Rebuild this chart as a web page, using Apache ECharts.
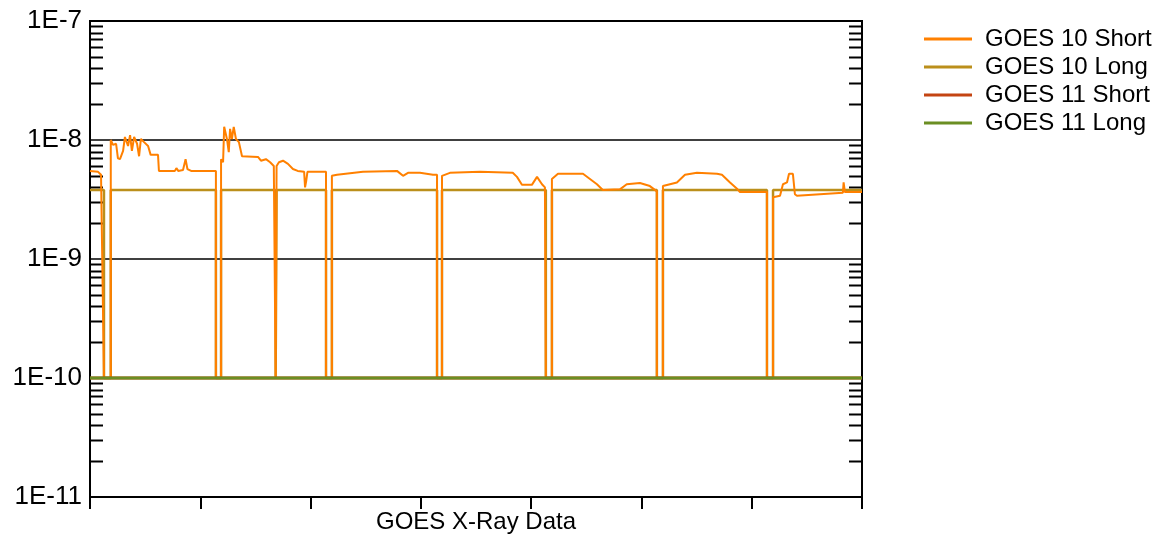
<!DOCTYPE html>
<html>
<head>
<meta charset="utf-8">
<script src="https://cdn.jsdelivr.net/npm/echarts@6/dist/echarts.min.js"></script>
<style>
html,body{margin:0;padding:0;background:#fff;}
#chart{width:1162px;height:536px;}
</style>
</head>
<body>
<div id="chart"></div>
<script>
// x in minutes across the window, y = X-ray flux (W/m^2)
const seriesNames = ['GOES 10 Short', 'GOES 10 Long', 'GOES 11 Short', 'GOES 11 Long'];
const seriesColors = ['#ff8000', '#bb8f1b', '#c44412', '#6b8e23'];
const xTicks = [0, 60, 120, 180, 240, 300, 360, 420];
const yDecades = [1e-11, 1e-10, 1e-9, 1e-8, 1e-7];
const minorMultipliers = [2, 3, 4, 5, 6, 7, 8, 9];

const goes10Short = [
  [0,5.5e-9],[4.4,5.4e-9],[6,5.1e-9],[7,5.0e-9],[7.6,1e-10],[11.3,1e-10],[11.3,1.0e-8],
  [12.5,9.1e-9],[14.2,9.3e-9],[15.2,7.0e-9],[16.3,6.9e-9],[18,8.1e-9],[19,1.06e-8],[20.7,8.9e-9],
  [21.8,1.1e-8],[22.8,8.1e-9],[24,1.06e-8],[25.6,9.3e-9],[26.7,7.3e-9],[27.7,1.02e-8],
  [29.4,9.6e-9],[31.6,8.9e-9],[33,7.5e-9],[37,7.5e-9],[37.5,5.5e-9],[46.2,5.5e-9],
  [47,5.8e-9],[48,5.5e-9],[50.6,5.6e-9],[52,6.9e-9],[53,5.7e-9],[55,5.5e-9],[68.5,5.5e-9],
  [68.5,1e-10],[71.3,1e-10],[71.3,6.9e-9],[72.4,6.5e-9],[73,1.29e-8],[74.5,1.02e-8],
  [75.5,7.9e-9],[76.2,1.24e-8],[77.2,1.02e-8],[78.2,1.29e-8],[79.4,1.02e-8],[81,9.6e-9],
  [82.7,7.3e-9],[91.4,7.2e-9],[93,6.7e-9],[95.7,6.9e-9],[98,6.5e-9],[100,6.05e-9],
  [101,6.05e-9],[101,1e-10],[101.5,1e-10],[101.5,6.05e-9],[102.8,6.5e-9],[105,6.7e-9],
  [107.7,6.3e-9],[110.4,5.7e-9],[113,5.5e-9],[116.5,5.4e-9],[117,4.0e-9],[117.6,4.5e-9],
  [118.3,5.4e-9],[128.4,5.4e-9],[128.4,1e-10],[131.6,1e-10],[131.6,5.0e-9],[134.4,5.1e-9],
  [148.5,5.4e-9],[167,5.5e-9],[170.3,5.0e-9],[173,5.3e-9],[179.5,5.3e-9],[186.6,5.1e-9],
  [188.8,5.1e-9],[188.8,1e-10],[191.5,1e-10],[191.5,5.0e-9],[195.8,5.3e-9],[212.2,5.4e-9],
  [230,5.3e-9],[232.3,4.9e-9],[235,4.2e-9],[240.4,4.2e-9],[243.2,4.9e-9],[245.9,4.25e-9],
  [247.5,4.0e-9],[248,4.0e-9],[248,1e-10],[251.3,1e-10],[251.3,4.7e-9],[254.6,5.2e-9],
  [268.2,5.2e-9],[272,4.7e-9],[275.8,4.25e-9],[279,3.8e-9],[288.3,3.85e-9],[292,4.25e-9],
  [299.2,4.35e-9],[304.6,4.1e-9],[308.4,3.7e-9],[308.4,1e-10],[311.7,1e-10],[311.7,4.1e-9],
  [319.3,4.4e-9],[323.7,5.1e-9],[330.2,5.3e-9],[341.1,5.2e-9],[343.8,5.1e-9],[348.2,4.4e-9],
  [352,3.9e-9],[353.6,3.65e-9],[368.3,3.65e-9],[368.3,1e-10],[371.6,1e-10],[371.6,3.3e-9],
  [375.4,3.4e-9],[377,4.25e-9],[379.2,4.4e-9],[380.3,5.2e-9],[382.4,5.2e-9],[383.5,3.5e-9],
  [384.6,3.4e-9],[409.6,3.6e-9],[410,4.4e-9],[410.7,3.65e-9],[420,3.65e-9]
];

const goes10Long = [
  [0,3.8e-9],[7.6,3.8e-9],[7.6,1e-10],[11.3,1e-10],[11.3,3.8e-9],
  [68.5,3.8e-9],[68.5,1e-10],[71.3,1e-10],[71.3,3.8e-9],
  [101,3.8e-9],[101,1e-10],[101.5,1e-10],[101.5,3.8e-9],
  [128.4,3.8e-9],[128.4,1e-10],[131.6,1e-10],[131.6,3.8e-9],
  [188.8,3.8e-9],[188.8,1e-10],[191.5,1e-10],[191.5,3.8e-9],
  [248,3.8e-9],[248,1e-10],[251.3,1e-10],[251.3,3.8e-9],
  [308.4,3.8e-9],[308.4,1e-10],[311.7,1e-10],[311.7,3.8e-9],
  [368.3,3.8e-9],[368.3,1e-10],[371.6,1e-10],[371.6,3.8e-9],
  [420,3.8e-9]
];

const goes11Short = [[0,1e-10],[420,1e-10]];
const goes11Long = [[0,1e-10],[420,1e-10]];

const minorTickValues = [];
yDecades.slice(0, -1).forEach(d => minorMultipliers.forEach(m => minorTickValues.push([0, m * d])));

const FONT = 'Liberation Sans, Arial, sans-serif';
const chart = echarts.init(document.getElementById('chart'), null, {renderer: 'canvas'});

function lineSeries(name, data, color, width, z) {
  return {
    name, type: 'line', data, showSymbol: false, symbol: 'none',
    lineStyle: {color, width}, itemStyle: {color}, z, silent: true, animation: false
  };
}

chart.setOption({
  animation: false,
  grid: {left: 90, top: 21, width: 772, height: 476, containLabel: false, outerBoundsMode: 'none',
    show: true, borderColor: '#000', borderWidth: 2, backgroundColor: '#fff'},
  legend: {
    orient: 'vertical', left: 919, top: 22, itemWidth: 48, itemHeight: 3, itemGap: 4, icon: 'rect',
    data: seriesNames,
    textStyle: {fontFamily: FONT, fontSize: 24, color: '#000', lineHeight: 24, padding: [0, 0, 0, 8]},
    selectedMode: false
  },
  xAxis: {
    type: 'value', min: xTicks[0], max: xTicks[xTicks.length - 1], interval: 60,
    name: 'GOES X-Ray Data', nameLocation: 'middle', nameGap: 13,
    nameTextStyle: {fontFamily: FONT, fontSize: 24, color: '#000'},
    axisLine: {show: true, lineStyle: {color: '#000', width: 2}},
    axisTick: {show: true, length: 12, lineStyle: {color: '#000', width: 2}},
    axisLabel: {show: false},
    splitLine: {show: false}
  },
  yAxis: [{
    type: 'log', logBase: 10, min: yDecades[0], max: yDecades[yDecades.length - 1],
    axisLine: {show: true, lineStyle: {color: '#000', width: 2}},
    axisTick: {show: false},
    axisLabel: {
      fontFamily: FONT, fontSize: 26, color: '#000', margin: 8,
      formatter: v => '1E' + Math.round(Math.log10(v))
    },
    splitLine: {show: true, lineStyle: {color: '#000', width: 1.5}}
  }, {
    type: 'log', logBase: 10, min: yDecades[0], max: yDecades[yDecades.length - 1], position: 'right',
    axisLine: {show: true, lineStyle: {color: '#000', width: 2}},
    axisTick: {show: false}, axisLabel: {show: false}, splitLine: {show: false}
  }],
  series: [
    {
      type: 'custom', silent: true, z: 1, animation: false,
      data: minorTickValues,
      renderItem: function (params, api) {
        const cs = params.coordSys;
        const y = Math.round(api.coord([0, api.value(1)])[1]) + 0.5;
        const st = {stroke: '#000', lineWidth: 2};
        return {type: 'group', children: [
          {type: 'line', shape: {x1: cs.x, y1: y, x2: cs.x + 13, y2: y}, style: st},
          {type: 'line', shape: {x1: cs.x + cs.width - 13, y1: y, x2: cs.x + cs.width, y2: y}, style: st}
        ]};
      }
    },
    lineSeries(seriesNames[0], goes10Short, seriesColors[0], 2, 4),
    lineSeries(seriesNames[1], goes10Long, seriesColors[1], 2.5, 3),
    lineSeries(seriesNames[2], goes11Short, seriesColors[2], 3, 5),
    lineSeries(seriesNames[3], goes11Long, seriesColors[3], 3, 6)
  ]
});
</script>
</body>
</html>
